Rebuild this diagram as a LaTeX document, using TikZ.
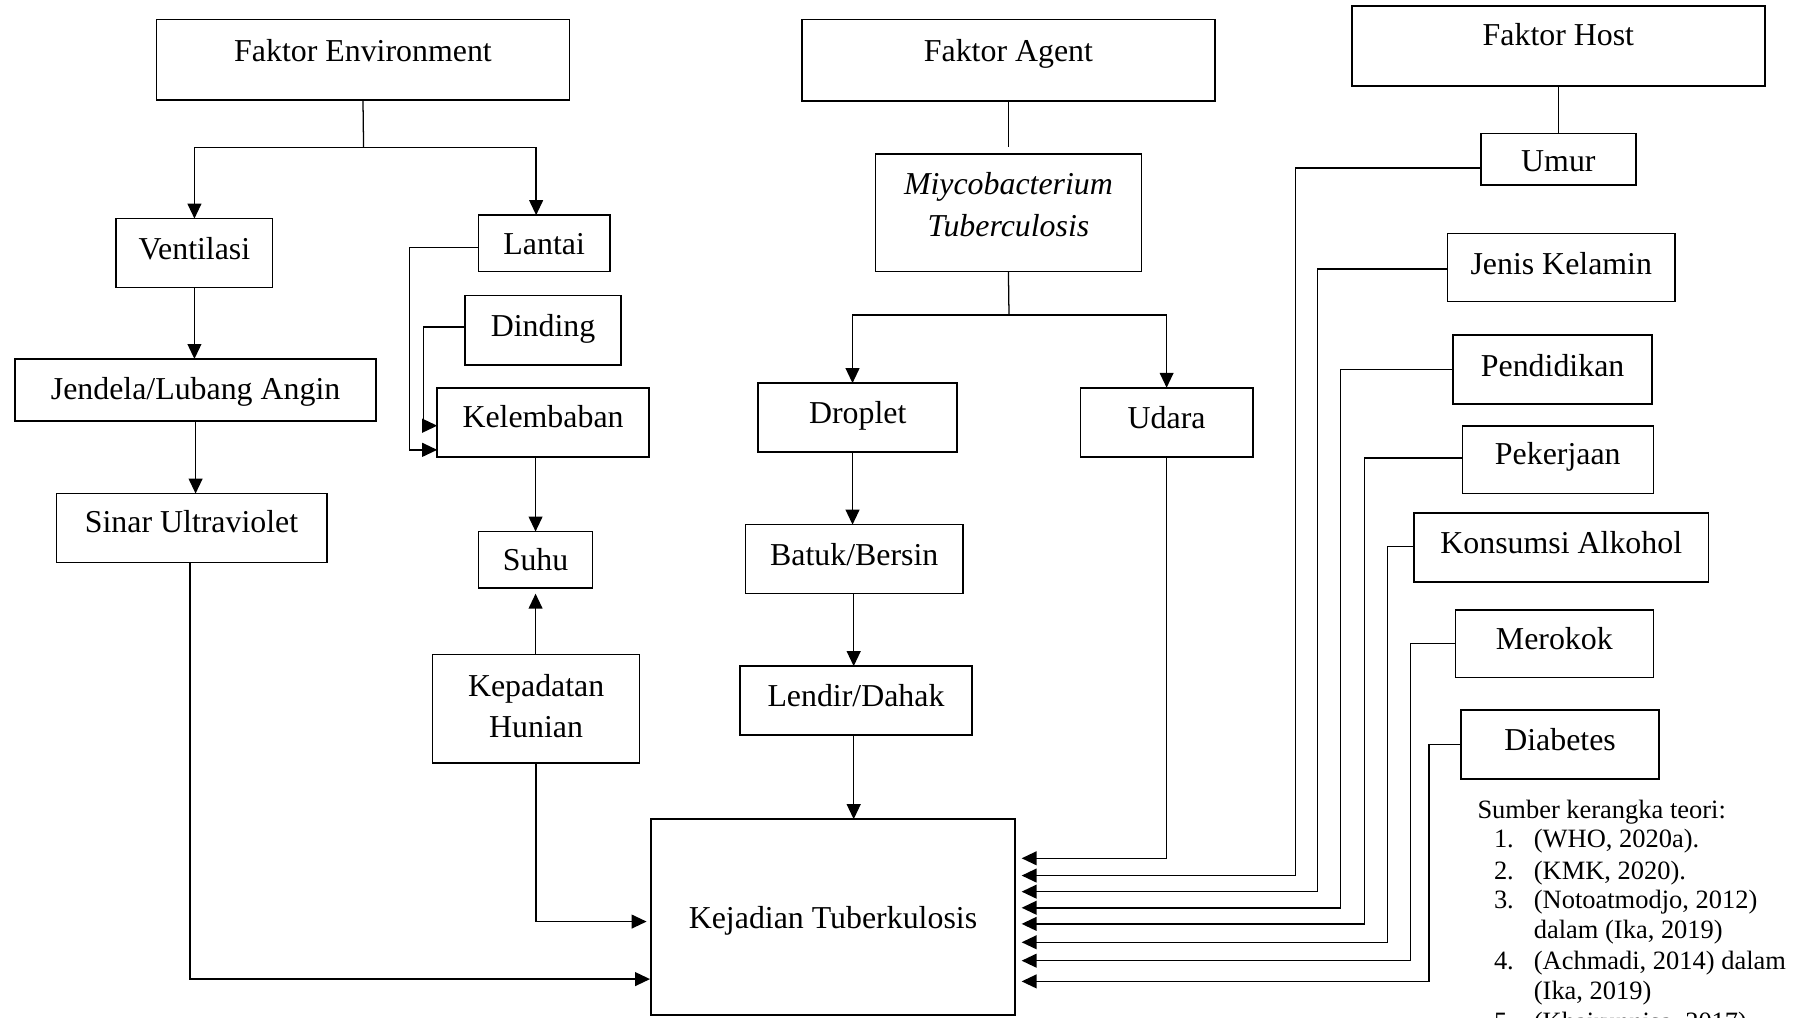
\documentclass[tikz,border=0pt]{standalone}
\usepackage{fontspec}
\setmainfont{Liberation Serif}
\usetikzlibrary{arrows.meta,calc}
\tikzset{
  box/.style={draw, line width=1.4pt, inner sep=0pt, outer sep=0pt},
  txt/.style={inner sep=0pt, text height=18.3pt, text depth=0pt, font=\fontsize{27.7}{36}\selectfont},
  fn/.style={inner sep=0pt, font=\fontsize{23}{26}\selectfont},
  ln/.style={line width=1.1pt},
  arr/.style={line width=1.3pt, -{Triangle[length=13pt,width=12pt]}},
}
\newcommand{\bx}[7]{%
  \node[box, minimum width={(#4-#2)*1pt}, minimum height={(#5-#3)*1pt}] (#1) at ({(#2+#4)/2},{(#3+#5)/2}) {};
  \node[txt] (#1t) at ({(#2+#4)/2},#6) {#7};}
\begin{document}
\begin{tikzpicture}[x=1pt,y=-1pt]
\useasboundingbox (0,0) rectangle (1568,884);
\clip (0,0) rectangle (1568,884);
% boxes
\bx{env}{136}{17}{495}{87}{44}{Faktor Environment}
\bx{vent}{101}{190}{237}{250}{216}{Ventilasi}
\bx{jend}{13}{312}{327}{366}{338}{Jendela/Lubang Angin}
\bx{sinar}{49}{429}{284}{489}{454}{Sinar Ultraviolet}
\bx{lantai}{416}{187}{530}{236}{212}{Lantai}
\bx{dinding}{404}{257}{540}{317}{283}{Dinding}
\bx{kelem}{380}{337}{564}{397}{362}{Kelembaban}
\bx{suhu}{416}{462}{515}{511}{487}{Suhu}
\bx{kepad}{376}{569}{556}{663}{596}{Kepadatan}
\node[txt] (kepadt2) at (466,632) {Hunian};
\bx{kejad}{566}{712}{882}{882}{798}{Kejadian Tuberkulosis}
\bx{agent}{697}{17}{1056}{88}{44}{Faktor Agent}
\bx{myco}{761}{134}{992}{236}{160}{\itshape Miycobacterium}
\node[txt] (mycot2) at (876.5,196) {\itshape Tuberculosis};
\bx{drop}{659}{333}{832}{393}{359}{Droplet}
\bx{batuk}{648}{456}{837}{516}{482}{Batuk/Bersin}
\bx{lendir}{643}{579}{845}{639}{605}{Lendir/Dahak}
\bx{udara}{939}{337}{1089}{397}{363}{Udara}
\bx{host}{1175}{5}{1534}{75}{30}{Faktor Host}
\bx{umur}{1287}{116}{1422}{161}{140}{Umur}
\bx{jk}{1258}{203}{1456}{262}{229}{Jenis Kelamin}
\bx{pend}{1263}{291}{1436}{351}{318}{Pendidikan}
\bx{pek}{1271}{370}{1437}{429}{395}{Pekerjaan}
\bx{alk}{1229}{446}{1485}{506}{472}{Konsumsi Alkohol}
\bx{mer}{1265}{530}{1437}{589}{555}{Merokok}
\bx{diab}{1270}{617}{1442}{677}{643}{Diabetes}
% environment branch
\coordinate (envj) at (316,128);
\draw[ln] (env.south) -- (envj);
\draw[arr] (envj) -| (vent.north);
\draw[arr] (envj) -| ($(lantai.north)+(-7,0)$);
\draw[arr] (vent.south) -- (vent.south |- jend.north);
\draw[arr] (jend.south) -- (jend.south |- sinar.north);
\draw[arr, shorten >=1pt] ($(sinar.south)+(-1.5,0)$) |- ($(kejad.west)+(0,54)$);
\draw[arr] ($(lantai.west)+(0,3.5)$) -- ++(-60,0) |- ($(kelem.west)+(0,24)$);
\draw[arr] ($(dinding.west)+(0,-3)$) -- ++(-36,0) |- ($(kelem.west)+(0,3)$);
\draw[arr] (suhu.north |- kelem.south) -- (suhu.north);
\draw[arr, shorten >=5pt] (suhu.south |- kepad.north) -- (suhu.south);
\draw[arr, shorten >=4pt] (kepad.south) |- ($(kejad.west)+(0,4)$);
% agent branch
\draw[ln] (agent.south) -- ($(myco.north)+(0,-6)$);
\coordinate (mycoj) at (877,274);
\draw[ln] (myco.south) -- (mycoj);
\draw[arr] (mycoj) -| ($(drop.north)+(-4.5,0)$);
\draw[arr] (mycoj) -| (udara.north);
\draw[arr] ($(drop.south)+(-4.5,0)$) -- ($(batuk.north)+(-1.5,0)$);
\draw[arr] ($(batuk.south)+(-0.5,0)$) -- ($(lendir.north)+(-2,0)$);
\coordinate (lb) at ($(lendir.south)+(-2,0)$);
\draw[arr] (lb) -- (lb |- kejad.north);
\draw[arr, shorten >=6pt] (udara.south) |- ($(kejad.east)+(0,-51)$);
% host branch
\draw[ln] (host.south) -- (umur.north);
\draw[arr, shorten >=6pt] ($(umur.west)+(0,7.5)$) -- ++(-161,0) |- ($(kejad.east)+(0,-36)$);
\draw[arr, shorten >=6pt] ($(jk.west)+(0,1.5)$) -- ++(-113,0) |- ($(kejad.east)+(0,-22)$);
\draw[arr, shorten >=6pt] (pend.west) -- ++(-98,0) |- ($(kejad.east)+(0,-8)$);
\draw[arr, shorten >=6pt] ($(pek.west)+(0,-1.5)$) -- ++(-85,0) |- ($(kejad.east)+(0,6)$);
\draw[arr, shorten >=6pt] ($(alk.west)+(0,-1)$) -- ++(-23,0) |- ($(kejad.east)+(0,22)$);
\draw[arr, shorten >=6pt] (mer.west) -- ++(-39,0) |- ($(kejad.east)+(0,38)$);
\draw[arr, shorten >=6pt] (diab.west) -- ++(-28,0) |- ($(kejad.east)+(0,56)$);
% sources
\node[fn, anchor=base west] (src) at (1284,711) {Sumber kerangka teori:};
\node[fn, anchor=base east] (n1) at (1316,737) {1.};
\node[fn, anchor=base west] (s1) at (1333,737) {(WHO, 2020a).};
\node[fn, anchor=base east] (n2) at (1316,764) {2.};
\node[fn, anchor=base west] (s2) at (1333,764) {(KMK, 2020).};
\node[fn, anchor=base east] (n3) at (1316,790) {3.};
\node[fn, anchor=base west] (s3) at (1333,790) {(Notoatmodjo, 2012)};
\node[fn, anchor=base west] (s3b) at (1333,816) {dalam (Ika, 2019)};
\node[fn, anchor=base east] (n4) at (1316,843) {4.};
\node[fn, anchor=base west] (s4) at (1333,843) {(Achmadi, 2014) dalam};
\node[fn, anchor=base west] (s4b) at (1333,869) {(Ika, 2019)};
\node[fn, anchor=base east] (n5) at (1316,896) {5.};
\node[fn, anchor=base west] (s5) at (1333,896) {(Khairunnisa, 2017)};
\end{tikzpicture}
\end{document}
